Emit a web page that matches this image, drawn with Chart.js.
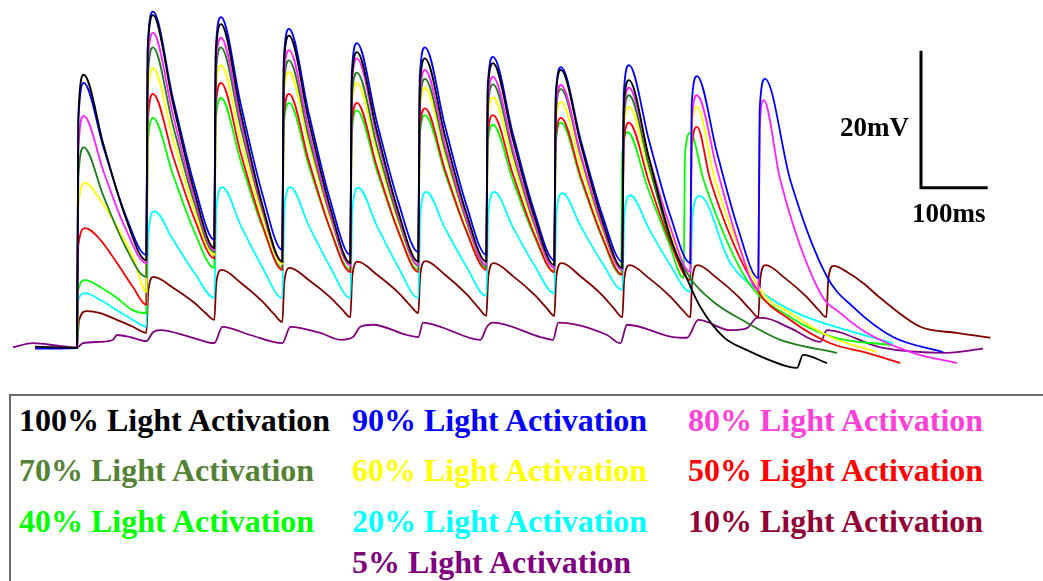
<!DOCTYPE html>
<html><head><meta charset="utf-8">
<script src="https://cdn.jsdelivr.net/npm/chart.js@4.4.1/dist/chart.umd.min.js"></script>
<style>
html,body{margin:0;padding:0;background:#fff;width:1043px;height:581px;overflow:hidden;position:relative}
#wrap{position:absolute;left:0;top:0;width:1043px;height:390px}
#legend{position:absolute;left:9px;top:394px;width:1100px;height:300px;border:2px solid #6a6a6a;box-sizing:border-box}
.lg{position:absolute;font:bold 32px "Liberation Serif","Times New Roman",serif;line-height:32px;white-space:nowrap}
</style></head>
<body>
<div id="wrap"><canvas id="c" width="1043" height="390"></canvas></div>
<div id="legend"></div>
<script>
// time in ms (x), membrane depolarisation in mV above rest (y)
const trace100 = [[-63,0.2],[0,0],[2,33.9],[10,39.9],[40,29.6],[72,19.3],
[104,12.8],[106,43.2],[114,48.6],[144,35.7],[176,22.8],
[206,14.6],[208,42.4],[216,47.3],[246,34.1],[278,20.9],
[308,12.6],[310,40.7],[318,45.6],[348,33.0],[380,20.4],
[410,12.4],[412,38.6],[420,43.2],[450,31.6],[482,19.9],
[512,12.6],[514,37.8],[522,42.3],[552,31.0],[584,19.7],
[614,12.6],[616,37.3],[624,41.6],[654,30.4],[686,19.2],
[716,12.1],[718,36.3],[726,40.6],[756,29.6],[788,18.6],
[818,11.7],[820,35.0],[828,39.1],[858,27.7],[890,16.2],
[920,9.0],[935,6.0],[970,1.6],[1005,-0.3],[1070,-2.8],[1080,-2.9],[1089,-1.0],[1125,-2.2]];

const trace90 = [[-63,-0.1],[0,0],[2,32.9],[10,38.7],[40,29.2],[72,19.6],
[104,13.6],[106,43.8],[114,49.1],[144,36.4],[176,23.8],
[206,15.8],[208,43.4],[216,48.3],[246,35.4],[278,22.5],
[308,14.3],[310,41.8],[318,46.6],[348,34.1],[380,21.5],
[410,13.6],[412,39.9],[420,44.5],[450,32.9],[482,21.3],
[512,14.0],[514,39.4],[522,43.9],[552,32.4],[584,20.9],
[614,13.6],[616,38.2],[624,42.5],[654,31.2],[686,19.9],
[716,12.8],[718,36.8],[726,41.0],[756,30.2],[788,19.4],
[818,12.6],[820,37.0],[828,41.3],[858,30.3],[890,19.3],
[920,12.4],[922,35.6],[930,39.7],[960,28.5],[992,17.3],
[1022,10.2],[1024,34.9],[1032,39.3],[1070,24.5],[1125,10.4],[1164,6.0],[1224,1.6],[1299,-0.6]];

const trace80 = [[-63,0],[0,0],[2,28.8],[10,33.9],[40,25.7],[72,17.6],
[104,12.4],[106,41.0],[114,46.0],[144,34.0],[176,21.9],
[206,14.3],[208,40.7],[216,45.3],[246,32.9],[278,20.4],
[308,12.6],[310,38.9],[318,43.5],[348,31.6],[380,19.6],
[410,12.1],[412,37.8],[420,42.3],[450,30.8],[482,19.3],
[512,12.1],[514,36.3],[522,40.6],[552,29.8],[584,18.9],
[614,12.1],[616,35.5],[624,39.6],[654,29.0],[686,18.4],
[716,11.7],[718,34.4],[726,38.4],[756,28.1],[788,17.9],
[818,11.4],[820,34.0],[828,38.0],[858,27.8],[890,17.6],
[920,11.1],[922,33.0],[930,36.9],[960,26.1],[992,15.3],
[1022,8.5],[1024,32.0],[1030,36.2],[1055,24.5],[1115,8.0],[1145,5.1],[1185,2.2],[1254,-0.7],[1320,-2.2]];

const trace70 = [[-63,0],[0,0],[2,24.9],[10,29.3],[40,22.1],[72,14.9],
[104,10.4],[106,38.9],[114,43.9],[144,32.5],[176,21.2],
[206,14.0],[208,39.4],[216,43.9],[246,32.0],[278,20.1],
[308,12.6],[310,37.6],[318,42.0],[348,30.6],[380,19.3],
[410,12.1],[412,36.0],[420,40.2],[450,29.5],[482,18.8],
[512,12.0],[514,35.2],[522,39.3],[552,28.9],[584,18.6],
[614,12.0],[616,34.5],[624,38.5],[654,28.3],[686,18.1],
[716,11.7],[718,33.9],[726,37.8],[756,27.8],[788,17.7],
[818,11.4],[820,33.1],[828,36.9],[858,26.6],[890,15.8],
[920,10.2],[954,6.8],[1005,3.7],[1055,1.2],[1140,-0.7]];

const trace60 = [[-63,0],[0,0],[2,20.5],[12,24.1],[35,21.6],[60,17.7],[84,13.3],
[104,8.2],[106,36.0],[114,40.9],[144,30.5],[176,20.2],
[206,13.6],[208,37.1],[216,41.3],[246,30.3],[278,19.3],
[308,12.3],[310,36.1],[318,40.3],[348,29.6],[380,18.9],
[410,12.1],[412,34.7],[420,38.7],[450,28.6],[482,18.4],
[512,12.0],[514,34.1],[522,38.0],[552,28.2],[584,18.3],
[614,12.1],[616,32.9],[624,36.6],[654,27.1],[686,17.7],
[716,11.7],[718,32.3],[726,35.9],[756,26.6],[788,17.3],
[818,11.4],[820,31.6],[828,35.2],[858,26.0],[890,16.9],
[920,11.1],[922,31.6],[930,35.2],[957,24.5],[1025,8.5],[1070,5.1],[1130,1.6],[1200,-0.6]];

const trace50 = [[-63,0],[0,0],[2,15.0],[12,17.5],[35,15.8],[60,12.4],[84,8.9],
[104,6.3],[106,32.5],[114,37.1],[144,28.0],[176,18.9],
[206,13.1],[208,34.9],[216,38.7],[246,28.3],[278,18.0],
[308,11.4],[310,33.2],[318,37.1],[348,27.2],[380,17.3],
[410,11.1],[412,32.1],[420,35.8],[450,26.4],[482,17.0],
[512,11.1],[514,31.4],[522,35.0],[552,26.0],[584,17.1],
[614,11.4],[616,30.6],[624,34.0],[654,25.3],[686,16.6],
[716,11.1],[718,30.2],[726,33.6],[756,24.9],[788,16.2],
[818,10.7],[820,29.6],[828,32.9],[858,24.2],[890,15.4],
[920,9.9],[922,28.9],[930,32.3],[950,24.5],[1020,8.5],[1070,4.1],[1130,0.7],[1185,-0.7],[1235,-2.2]];

const trace40 = [[-63,0],[0,0],[2,8.5],[12,9.9],[35,8.9],[60,7.3],[84,5.5],
[104,5.1],[106,29.3],[114,33.6],[144,25.3],[176,17.0],
[206,11.7],[208,32.8],[216,36.5],[246,27.1],[278,17.7],
[308,11.7],[310,32.2],[318,35.8],[348,26.5],[380,17.3],
[410,11.4],[412,31.2],[420,34.7],[450,25.8],[482,17.0],
[512,11.4],[514,30.6],[522,34.0],[552,25.5],[584,17.1],
[614,11.7],[616,29.5],[624,32.6],[654,24.4],[686,16.3],
[716,11.1],[718,29.6],[726,32.9],[756,24.5],[788,16.0],
[816,10.7],[818,28.4],[826,31.5],[856,23.4],[888,15.3],
[910,10.2],[912,28.2],[920,31.4],[940,24.5],[1005,9.9],[1070,4.5],[1134,1.6],[1224,0.4]];

const trace20 = [[-63,0],[0,0],[2,7.0],[12,8.0],[35,7.0],[60,5.5],[84,4.1],
[104,3.1],[107,16.6],[116,20.0],[144,15.8],[176,11.0],
[206,7.3],[209,20.3],[218,23.5],[246,17.8],[278,11.8],
[308,7.3],[311,20.3],[320,23.5],[348,17.8],[380,11.8],
[410,7.3],[413,20.2],[422,23.4],[450,17.8],[482,11.8],
[512,7.3],[515,19.7],[524,22.8],[552,17.5],[584,11.9],
[614,7.6],[617,19.8],[626,22.8],[654,17.6],[686,12.1],
[716,8.0],[719,19.7],[728,22.6],[756,17.7],[788,12.4],
[818,8.5],[821,19.5],[830,22.3],[858,17.4],[890,12.1],
[920,8.2],[923,19.4],[934,22.2],[980,12.4],[1029,8.0],[1080,5.1],[1155,2.6],[1224,0.7]];

const trace10 = [[-48,0],[0,0],[3,4.0],[15,5.4],[35,5.1],[60,4.1],[84,3.1],
[104,2.2],[107,8.4],[115,10.4],[144,8.8],[176,6.6],[194,5.0],
[206,4.1],[209,9.6],[217,11.4],[246,9.5],[278,6.8],[296,4.9],
[308,3.8],[311,9.7],[319,11.7],[348,9.9],[380,7.4],[398,5.6],
[410,4.5],[413,10.6],[421,12.6],[450,10.7],[482,8.1],[500,6.2],
[512,5.1],[515,10.8],[523,12.7],[552,10.7],[584,7.9],[602,5.9],
[614,4.7],[617,10.5],[625,12.4],[654,10.5],[686,7.8],[704,5.9],
[716,4.7],[719,10.5],[727,12.4],[756,10.4],[788,7.7],[806,5.7],
[818,4.5],[821,10.2],[829,12.1],[858,10.2],[890,7.5],[908,5.6],
[920,4.5],[923,10.2],[931,12.1],[960,10.2],[992,7.5],[1010,5.6],
[1022,4.5],[1025,10.2],[1033,12.1],[1062,10.2],[1094,7.5],[1112,5.6],
[1124,4.5],[1127,10.1],[1135,12.0],[1155,11.1],[1179,9.5],[1205,7.3],[1265,3.1],[1320,2.2],[1370,1.5]];

const trace5 = [[-96,0.1],[-66,0.7],[-26,0.3],[0,0.1],[9,0.7],[35,0.9],[54,1.2],[60,1.9],[80,1.6],[104,1.0],
[114,2.3],[125,2.6],[170,1.6],[206,0.7],[218,3.1],[260,1.9],[308,0.7],[320,3.1],[365,2.2],
[395,1.2],[414,1.6],[425,3.1],[444,3.4],[495,1.9],[512,1.6],[519,3.7],[545,3.1],[605,1.2],
[615,3.1],[624,3.7],[695,1.6],[714,1.2],[722,3.7],[795,1.9],[815,0.7],[825,3.4],[894,1.6],
[915,1.5],[932,4.1],[980,2.6],[1005,2.9],[1020,4.4],[1029,4.4],[1070,2.9],[1115,0.9],[1125,2.6],
[1205,0.1],[1305,-0.7],[1359,-0.1]];

const seriesLabels = ['100% Light Activation','90% Light Activation','80% Light Activation',
  '70% Light Activation','60% Light Activation','50% Light Activation',
  '40% Light Activation','20% Light Activation','10% Light Activation','5% Light Activation'];
const seriesData = [trace100,trace90,trace80,trace70,trace60,trace50,trace40,trace20,trace10,trace5];
const lineColors = ['#000000','#0000ff','#ff22ff','#1c7f1c','#ffff00','#ff0000','#00ff00','#00ffff','#800000','#800080'];
const textColors = ['#000000','#0000ff','#ff40d8','#548235','#ffff00','#ff0000','#00ff00','#00ffff','#930035','#800080'];
// legend grid cell (column,row) for each series
const legendCol = [0,1,2,0,1,2,0,1,2,1];
const legendRow = [0,0,0,1,1,1,2,2,2,3];

// scale bar: anchor corner (ms, mV) and lengths
const scaleBarTime = 1266, scaleBarVolt = 23.4, scaleBarMs = 100, scaleBarMv = 20;
const scaleBarLabels = ['20mV','100ms'];

const scaleBarPlugin = {
  id:'scaleBar',
  afterDraw(chart){
    const {ctx, scales:{x,y}} = chart;
    const x0 = x.getPixelForValue(scaleBarTime), y0 = y.getPixelForValue(scaleBarVolt);
    const x1 = x.getPixelForValue(scaleBarTime + scaleBarMs), y1 = y.getPixelForValue(scaleBarVolt + scaleBarMv);
    ctx.save();
    ctx.strokeStyle = '#000'; ctx.lineWidth = 3; ctx.lineJoin = 'miter'; ctx.lineCap = 'butt';
    ctx.beginPath(); ctx.moveTo(x0, y1); ctx.lineTo(x0, y0); ctx.lineTo(x1, y0); ctx.stroke();
    ctx.fillStyle = '#000'; ctx.font = 'bold 27px "Liberation Serif", serif';
    ctx.textBaseline = 'alphabetic';
    ctx.textAlign = 'right'; ctx.fillText(scaleBarLabels[0], x0 - 12, (y0 + y1) / 2 + 17);
    ctx.textAlign = 'left'; ctx.fillText(scaleBarLabels[1], x0 - 9, y0 + 34);
    ctx.restore();
  }
};

new Chart(document.getElementById('c'), {
  type: 'line',
  data: {
    datasets: seriesData.map((d, i) => ({
      label: seriesLabels[i],
      data: d.map(p => ({x: p[0], y: p[1]})),
      borderColor: lineColors[i],
      backgroundColor: lineColors[i],
      borderWidth: 1.8,
      pointRadius: 0,
      fill: false,
      cubicInterpolationMode: 'monotone'
    }))
  },
  options: {
    responsive: false, animation: false, devicePixelRatio: 1,
    layout: {padding: 0},
    plugins: {legend: {display: false}, tooltip: {enabled: false}},
    scales: {
      x: {type: 'linear', display: false, min: -115.5, max: 1449},
      y: {type: 'linear', display: false, min: -6.13, max: 50.81}
    }
  },
  plugins: [scaleBarPlugin]
});

const colX = [8, 341, 677], rowY = [8, 58, 109, 150];
const lg = document.getElementById('legend');
seriesLabels.forEach((t, i) => {
  const s = document.createElement('span');
  s.className = 'lg'; s.textContent = t; s.style.color = textColors[i];
  s.style.left = colX[legendCol[i]] + 'px'; s.style.top = rowY[legendRow[i]] + 'px';
  lg.appendChild(s);
});
</script>
</body></html>
